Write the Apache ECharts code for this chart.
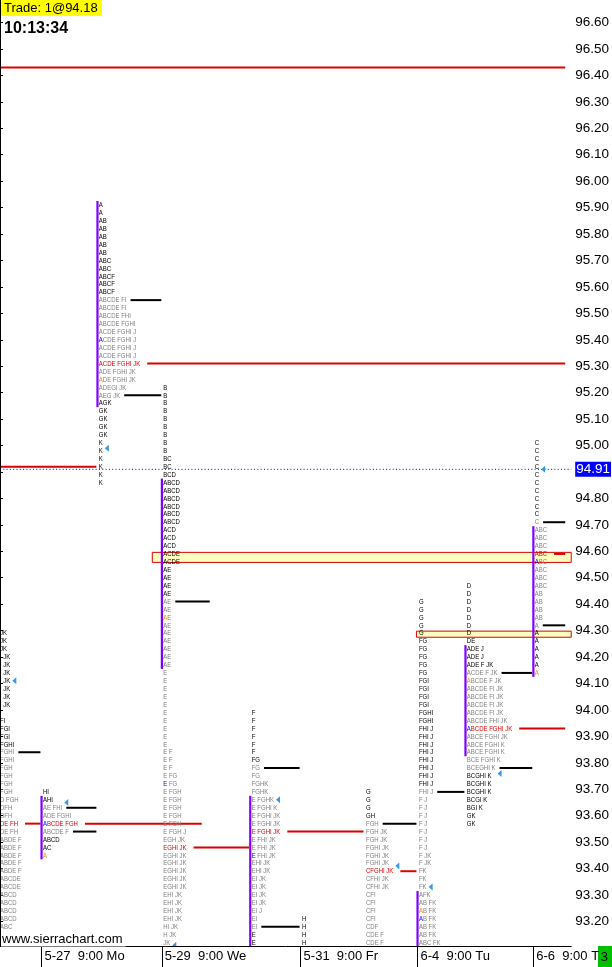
<!DOCTYPE html>
<html><head><meta charset="utf-8">
<script src="https://cdn.jsdelivr.net/npm/echarts@6.0.0/dist/echarts.min.js"></script>
<style>html,body{margin:0;padding:0;background:#fff;}#c{width:612px;height:967px;}</style>
</head><body><div id="c"></div>
<script>
// ================= DATA =================
const dayLabels = ['5-24','5-27  9:00 Mo','5-28','5-29  9:00 We','5-30','5-31  9:00 Fr','6-3','6-4  9:00 Tu','6-5','6-6  9:00 T'];
const labeledDays = [1,3,5,7,9];
// time-slot position of each day's profile on the x axis
const dayX = [-2.5, 40.5, 96.5, 161, 249.5, 300, 364, 417, 465, 533];
const rowSize = 0.03;
const topPrice = [94.29, 93.69, 95.91, 95.22, 93.99, 93.21, 93.69, 94.41, 94.47, 95.01];

const rows0 = ["JK","JK","JK","  JK","  JK","  JK","  JK","  JK","  JK","  JK","","FI","FGI","FGI","FGHI","FGHI","FGHI","FGH","FGH","FGH","FGH","D FGH","DFH","DFH","DE FH","DE FH","ABDE F","ABDE F","ABDE F","ABDE F","ABDE F","ABCDE","ABCDE","ABCD","ABCD","ABCD","ABCD","ABC"];
const rows1 = ["HI","AHI","AE FHI","ADE FGHI","ABCDE FGH","ABCDE F","ABCD","AC","A"];
const rows2 = ["A","A","AB","AB","AB","AB","AB","ABC","ABC","ABCF","ABCF","ABCF","ABCDE FI","ABCDE FI","ABCDE FHI","ABCDE FGHI","ACDE FGHI J","ACDE FGHI J","ACDE FGHI J","ACDE FGHI J","ACDE FGHI JK","ADE FGHI JK","ADE FGHI JK","ADEGI JK","AEG JK","AGK","GK","GK","GK","GK","K","K","K","K","K","K"];
const rows3 = ["B","B","B","B","B","B","B","B","B","BC","BC","BCD","ABCD","ABCD","ABCD","ABCD","ABCD","ABCD","ACD","ACD","ACD","ACDE","ACDE","AE","AE","AE","AE","AE","AE","AE","AE","AE","AE","AE","AE","AE","E","E","E","E","E","E","E","E","E","E","E F","E F","E F","E FG","E FG","E FGH","E FGH","E FGH","E FGH","E FGH","E FGH J","EGH JK","EGHI JK","EGHI JK","EGHI JK","EGHI JK","EGHI JK","EGHI JK","EHI JK","EHI JK","EHI JK","EHI JK","HI JK","H JK","JK"];
const rows4 = ["F","F","F","F","F","F","FG","FG","FG","FGHK","FGHK","E FGHK","E FGHI K","E FGHI JK","E FGHI JK","E FGHI JK","E FHI JK","E FHI JK","E FHI JK","EHI JK","EHI JK","EI JK","EI JK","EI JK","EI JK","EI J","EI","EI","E","E"];
const rows5 = ["H","H","H","H"];
const rows6 = ["G","G","G","GH","FGH","FGH JK","FGH JK","FGHI JK","FGHI JK","FGHI JK","CFGHI JK","CFHI JK","CFHI JK","CFI","CFI","CFI","CFI","CDF","CDE F","CDE F"];
const rows7 = ["G","G","G","G","G","FG","FG","FG","FG","FG","FGI","FGI","FGI","FGI","FGHI","FGHI","FHI J","FHI J","FHI J","FHI J","FHI J","FHI J","FHI J","FHI J","FHI J","F J","F J","F J","F J","F J","F J","F J","F JK","F JK","FK","FK","FK","AFK","AB FK","AB FK","AB FK","AB FK","AB FK","ABC FK"];
const rows8 = ["D","D","D","D","D","D","D","DE","ADE J","ADE J","ADE F JK","ACDE F JK","ABCDE F JK","ABCDE FI JK","ABCDE FI JK","ABCDE FI JK","ABCDE FI JK","ABCDE FHI JK","ABCDE FGHI JK","ABCE FGHI JK","ABCE FGHI K","ABCE FGHI K","BCE FGHI K","BCEGHI K","BCGHI K","BCGHI K","BCGHI K","BCGI K","BGI K","GK","GK"];
const rows9 = ["C","C","C","C","C","C","C","C","C","C","C","ABC","ABC","ABC","ABC","ABC","ABC","ABC","ABC","AB","AB","AB","AB","A","A","A","A","A","A","A"];

const pocPrice = [93.57, 93.57, 95.31, 93.48, 93.54, null, 93.39, null, 93.93, 94.59];
const vahPrice = [93.84, 93.63, 95.55, 94.41, 93.78, null, 93.57, 93.69, 94.14, 94.71];
const valPrice = [null, 93.54, 95.19, null, 93.18, null, null, null, 93.78, 94.32]; // null: below visible range
const ibHigh = [null, 93.66, 95.91, 94.86, 93.66, null, null, 93.30, 94.23, 94.68];
const ibLow  = [null, 93.45, 95.16, 94.17, 93.12, null, null, 93.12, 93.84, 94.14];
const openMark = [null, 93.45, 95.25, 94.35, null, null, null, 93.24, 94.11, 94.14];
const blueMark = [null, 93.57, 95.40, 93.72, 93.45, null, null, 93.21, 93.93, 94.56];
const closePrice = [94.11, 93.65, 94.99, 93.11, 93.66, null, 93.41, 93.33, 93.76, 94.91];
const vahEnd = [40.5, 96.5, 161.5, 210, 300, null, 417, 465, 533, 566];
const valEnd = [null, 96.5, 161.5, null, 300, null, null, null, 533, 566];
const pocEnd = [40.5, 202, 566, 249.5, 364, null, 417, null, 566, 566];
const olderPoc = [96.43, 94.92];
const olderPocEnd = [566, 96.5];
const bandStart = [152.5, 417];
const bandLow = [94.558, 94.275];
const bandHigh = [94.596, 94.298];
const lastPrice = 94.91;
const yTicks = [93.2,93.3,93.4,93.5,93.6,93.7,93.8,93.9,94.0,94.1,94.2,94.3,94.4,94.5,94.6,94.7,94.8,94.9,95.0,95.1,95.2,95.3,95.4,95.5,95.6,95.7,95.8,95.9,96.0,96.1,96.2,96.3,96.4,96.5,96.6];

// ================= STYLE =================
const allRows = [rows0,rows1,rows2,rows3,rows4,rows5,rows6,rows7,rows8,rows9];
const FONT = '8px "Liberation Sans", Arial, sans-serif';
const SX = 0.75; // condensed letters
const LBL = 'Liberation Sans';
const BLACK='#000000', GRAY='#808080', RED='#dd0000', BLUE='#0000ff', ORANGE='#ff8000', PURPLE='#8000ff', TRI='#3399ee';
const TEXT_PAD = 2.5;
const XMAX = 572;
const mctx = document.createElement('canvas').getContext('2d');
mctx.font = FONT;
const tw = s => mctx.measureText(s || '').width * SX;
const near = (a,b) => a!=null && b!=null && Math.abs(a-b) < 0.005;
const rowPrice = (p,i) => +(topPrice[p] - i*rowSize).toFixed(2);
const rowIdx = (p,price) => Math.max(0, Math.min(allRows[p].length-1, Math.round((topPrice[p]-price)/rowSize)));

function rowColor(p, price){
  if (near(price, pocPrice[p])) return RED;
  const hi = vahPrice[p], lo = valPrice[p];
  if (hi == null) return BLACK;
  if (price <= hi + 0.005 && (lo == null || price >= lo - 0.005)) return GRAY;
  return BLACK;
}
function txt(x,y,s,fill){
  return {type:'text', x:x, y:y, scaleX:SX, scaleY:1, style:{text:s, fill:fill, font:FONT, align:'left', verticalAlign:'middle', textAlign:'left', textVerticalAlign:'middle'}};
}

const textData = [];
allRows.forEach((rows,p)=>rows.forEach((s,i)=>textData.push([dayX[p], rowPrice(p,i), p, i])));
const lineData = [];
for (let p=0;p<allRows.length;p++){
  if (vahPrice[p]!=null && vahEnd[p]!=null) lineData.push([dayX[p], vahEnd[p], vahPrice[p], p, 0]);
  if (valPrice[p]!=null && valEnd[p]!=null) lineData.push([dayX[p], valEnd[p], valPrice[p], p, 0]);
  if (pocPrice[p]!=null && pocEnd[p]!=null) lineData.push([dayX[p], pocEnd[p], pocPrice[p], p, 1]);
}
olderPoc.forEach((v,k)=>lineData.push([0, olderPocEnd[k], v, -1, 2]));
const ibData = [];
for (let p=0;p<allRows.length;p++) if (ibHigh[p]!=null) ibData.push([dayX[p], ibHigh[p]+rowSize/2, ibLow[p]-rowSize/2]);
const triData = [];
for (let p=0;p<allRows.length;p++) if (closePrice[p]!=null) triData.push([dayX[p], closePrice[p], p]);
const bandData = bandStart.map((s,k)=>[s, bandLow[k], bandHigh[k]]);
const tickX = labeledDays.map(i=>dayX[i]+1);

const chart = echarts.init(document.getElementById('c'), null, {renderer:'canvas'});
chart.setOption({
  animation:false,
  backgroundColor:'#ffffff',
  grid:{left:0, right:40, top:0, bottom:21, containLabel:false},
  xAxis:{type:'value', min:0, max:XMAX, splitLine:{show:false},
    axisLine:{show:true, onZero:false, lineStyle:{color:'#000', width:1}},
    axisTick:{show:true, customValues:tickX, length:21, lineStyle:{color:'#000', width:1}},
    axisLabel:{show:true, customValues:tickX, align:'left', margin:4, padding:[0,0,0,3], color:'#000', fontSize:13, fontFamily:LBL,
      formatter:v=>{ for (const i of labeledDays) if (Math.abs(dayX[i]+1-v)<0.01) return dayLabels[i]; return ''; }}},
  yAxis:{type:'value', position:'right', min:93.1072, max:96.6851, splitLine:{show:false},
    axisLine:{show:true, lineStyle:{color:'#000', width:1}},
    axisTick:{show:true, customValues:yTicks, length:3, lineStyle:{color:'#000'}},
    axisLabel:{show:true, customValues:yTicks, margin:4, color:'#000', fontSize:13.5, fontFamily:LBL, formatter:v=>v.toFixed(2)}},
  series:[
    {type:'custom', name:'bands', z:1, clip:true, data:bandData, encode:{x:0,y:[1,2]},
      renderItem:(params,api)=>{
        const a = api.coord([api.value(0), api.value(2)]);
        const b = api.coord([XMAX, api.value(1)]);
        return {type:'rect', shape:{x:a[0], y:a[1], width:b[0]-a[0], height:b[1]-a[1]}, style:{fill:'#ffffc0', stroke:RED, lineWidth:1}};
      }},
    {type:'custom', name:'last', z:2, clip:true, data:[[0, lastPrice]], encode:{x:0,y:1},
      renderItem:(params,api)=>{
        const a = api.coord([0, api.value(1)]), b = api.coord([XMAX, api.value(1)]);
        return {type:'line', shape:{x1:a[0], y1:a[1], x2:b[0], y2:a[1]}, style:{stroke:BLUE, lineWidth:1, lineDash:[1,2.3]}};
      }},
    {type:'custom', name:'levels', z:3, clip:true, data:lineData, encode:{x:[0,1], y:2},
      renderItem:(params,api)=>{
        const p = api.value(3), kind = api.value(4), price = api.value(2);
        const a = api.coord([api.value(0), price]), b = api.coord([api.value(1), price]);
        let x0 = a[0];
        if (kind < 2) x0 += TEXT_PAD + tw(allRows[p][rowIdx(p,price)]) + (kind===0 ? 4 : 7);
        return {type:'line', shape:{x1:x0, y1:a[1], x2:b[0], y2:a[1]}, style:{stroke: kind===0 ? '#000' : RED, lineWidth:2}};
      }},
    {type:'custom', name:'ib', z:4, clip:true, data:ibData, encode:{x:0,y:[1,2]},
      renderItem:(params,api)=>{
        const a = api.coord([api.value(0), api.value(1)]), b = api.coord([api.value(0), api.value(2)]);
        return {type:'rect', shape:{x:a[0], y:a[1], width:2.2, height:b[1]-a[1]}, style:{fill:PURPLE}};
      }},
    {type:'custom', name:'tpo', z:5, clip:true, data:textData, encode:{x:0,y:1},
      renderItem:(params,api)=>{
        const p = api.value(2), i = api.value(3), s = allRows[p][i];
        if (!s) return null;
        const price = api.value(1);
        const pt = api.coord([api.value(0), price]);
        const x = pt[0] + TEXT_PAD, y = pt[1];
        const col = rowColor(p, price);
        let first = null;
        if (near(price, openMark[p])) first = ORANGE; else if (near(price, blueMark[p])) first = BLUE;
        if (first) return {type:'group', children:[txt(x,y,s[0],first), txt(x+tw(s[0]),y,s.slice(1),col)]};
        return txt(x,y,s,col);
      }},
    {type:'custom', name:'close', z:6, clip:true, data:triData, encode:{x:0,y:1},
      renderItem:(params,api)=>{
        const p = api.value(2), price = api.value(1);
        const f = (topPrice[p]-price)/rowSize;
        const r1 = Math.max(0, Math.min(allRows[p].length-1, Math.floor(f)));
        const r2 = Math.max(0, Math.min(allRows[p].length-1, Math.ceil(f)));
        const w = Math.max(tw(allRows[p][r1]), tw(allRows[p][r2]));
        const pt = api.coord([api.value(0), price]);
        const x = pt[0] + TEXT_PAD + w + 2, y = pt[1];
        return {type:'polygon', shape:{points:[[x,y],[x+4,y-3.5],[x+4,y+3.5]]}, style:{fill:TRI}};
      }},
    {type:'custom', name:'lastLabel', z:7, clip:false, data:[[XMAX, lastPrice]], encode:{x:0,y:1},
      renderItem:(params,api)=>{
        const pt = api.coord([api.value(0), api.value(1)]);
        return {type:'text', x:pt[0]+4, y:pt[1], style:{text:api.value(1).toFixed(2), fill:'#fff', backgroundColor:BLUE, padding:[1,1,0,1],
          font:'13.5px "Liberation Sans"', align:'left', verticalAlign:'middle', textAlign:'left', textVerticalAlign:'middle'}};
      }}
  ],
  graphic:[
    {type:'line', z:50, shape:{x1:0.5, y1:0, x2:0.5, y2:946}, style:{stroke:'#000', lineWidth:1}},
    {type:'rect', z:50, shape:{x:1, y:0, width:101, height:16}, style:{fill:'#ffff00'}},
    {type:'text', z:51, x:4, y:8.5, style:{text:'Trade: 1@94.18', font:'13px "Liberation Sans"', fill:'#000', verticalAlign:'middle', textVerticalAlign:'middle'}},
    {type:'text', z:51, x:4, y:28.5, style:{text:'10:13:34', font:'bold 16px "Liberation Sans"', fill:'#000', verticalAlign:'middle', textVerticalAlign:'middle'}},
    {type:'text', z:60, x:1, y:939, style:{text:'www.sierrachart.com', font:'13px "Liberation Sans"', fill:'#000', backgroundColor:'#fff', padding:[1,3,1,1], verticalAlign:'middle', textVerticalAlign:'middle'}},
    {type:'rect', z:-1, shape:{x:598, y:946, width:14, height:21}, style:{fill:'#00c000'}},
    {type:'text', z:51, x:600.5, y:957.5, style:{text:'3', font:'13.5px "Liberation Sans"', fill:'#000', verticalAlign:'middle', textVerticalAlign:'middle'}}
  ]
});
</script></body></html>
